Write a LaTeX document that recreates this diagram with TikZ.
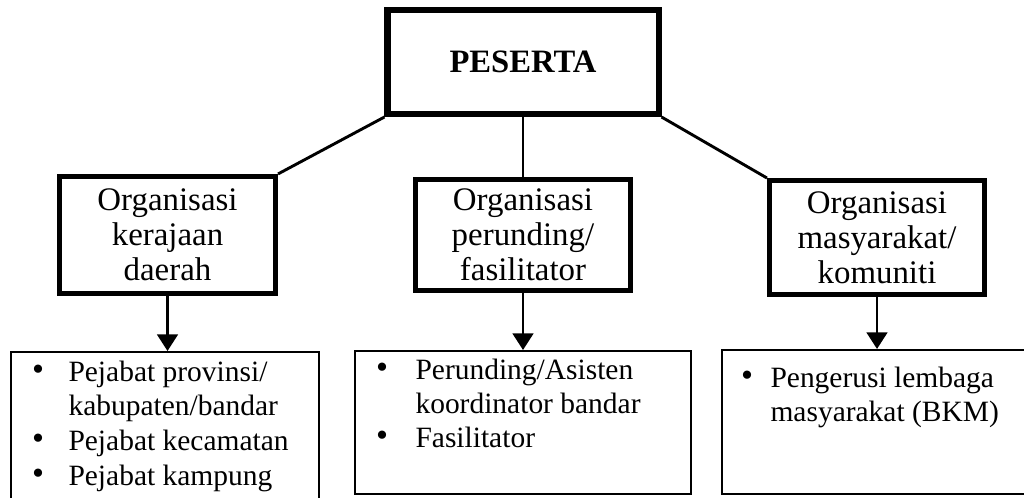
\documentclass[tikz,border=0pt]{standalone}
\usepackage{fontspec}
\setmainfont{Liberation Serif}
\usetikzlibrary{arrows.meta}

\tikzset{
  headbox/.style={draw, line width=2.3pt, minimum width=103pt, minimum height=39.5pt, font=\fontsize{12.4}{13}\selectfont\bfseries},
  orgbox/.style={draw, line width=1.9pt, align=center, inner sep=0pt, font=\fontsize{12.5}{13.3}\selectfont},
  listbox/.style={draw, line width=0.8pt, inner sep=0pt},
  entry/.style={anchor=base west, inner sep=0pt, font=\fontsize{11.2}{13}\selectfont},
  dot/.style={anchor=center, inner sep=0pt, font=\fontsize{13}{13}\selectfont},
  link/.style={line width=1.1pt},
  down/.style={line width=1.1pt, -{Triangle[length=6.3pt,width=7.8pt]}},
}

\begin{document}
\begin{tikzpicture}[x=0.38pt, y=-0.38pt]
  \useasboundingbox (0,0) rectangle (1024,497);
  \clip (0,0) rectangle (1024,497);

  % top
  \node[headbox] (peserta) at (523,62) {PESERTA};

  % second row
  \node[orgbox, minimum width=82.1pt, minimum height=44.5pt] (kerajaan) at (167.5,235) {Organisasi\\kerajaan\\daerah};
  \node[orgbox, minimum width=81.7pt, minimum height=42.2pt] (perunding) at (523,235) {Organisasi\\perunding/\\fasilitator};
  \node[orgbox, minimum width=81.7pt, minimum height=43.3pt] (komuniti) at (877,237.5) {Organisasi\\masyarakat/\\komuniti};

  \draw[link] (peserta.south west) -- (kerajaan.north east);
  \draw[link] (peserta.south) -- (perunding.north);
  \draw[link] (peserta.south east) -- (komuniti.north west);

  % lists
  \node[listbox, minimum width=117pt, minimum height=63.8pt] (listA) at (165,436) {};
  \node[listbox, minimum width=127.7pt, minimum height=54.3pt] (listB) at (523,422.5) {};
  \node[listbox, minimum width=120.8pt, minimum height=54.7pt] (listC) at (881,422) {};

  \draw[down] (kerajaan.south) -- (kerajaan.south |- listA.north);
  \draw[down] (perunding.south) -- (perunding.south |- listB.north);
  \draw[down] (komuniti.south) -- (komuniti.south |- listC.north);

  \node[dot] (dotA1) at (38,373) {\textbullet};
  \node[entry] (itemA1) at (68,381) {Pejabat provinsi/};
  \node[entry] (itemA2) at (68,415) {kabupaten/bandar};
  \node[dot] (dotA3) at (38,442) {\textbullet};
  \node[dot] (dotA4) at (38,477) {\textbullet};
  \node[entry] (itemA3) at (68,450) {Pejabat kecamatan};
  \node[entry] (itemA4) at (68,485) {Pejabat kampung};

  \node[dot] (dotB1) at (382,371) {\textbullet};
  \node[entry] (itemB1) at (415,379) {Perunding/Asisten};
  \node[entry] (itemB2) at (415,413) {koordinator bandar};
  \node[dot] (dotB3) at (382,439) {\textbullet};
  \node[entry] (itemB3) at (415,447) {Fasilitator};

  \node[dot] (dotC1) at (747,379) {\textbullet};
  \node[entry] (itemC1) at (770,387) {Pengerusi lembaga};
  \node[entry] (itemC2) at (770,421) {masyarakat (BKM)};
\end{tikzpicture}
\end{document}
